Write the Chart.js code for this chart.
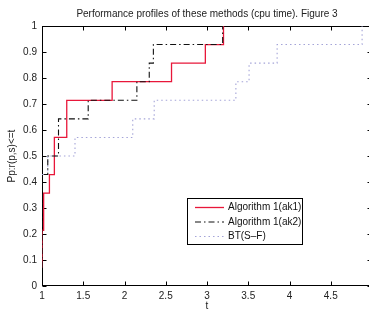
<!DOCTYPE html>
<html>
<head>
<meta charset="utf-8">
<script src="https://cdn.jsdelivr.net/npm/chart.js@4.4.1/dist/chart.umd.min.js"></script>
<style>
  html, body { margin: 0; padding: 0; background: #fff; overflow: hidden; width: 369px; height: 312px; }
  #wrap { width: 376px; height: 312px; }
</style>
</head>
<body>
<div id="wrap"><canvas id="c" width="376" height="312"></canvas></div>
<script>
// ---- data ----
const titleText = 'Performance profiles of these methods (cpu time). Figure 3';
const xLabel = 't';
const yLabel = 'Pp:r(p,s)<=t';
const seriesNames = ['Algorithm 1(ak1)', 'Algorithm 1(ak2)', 'BT(S\u2013F)'];

const ak1T = [1.00, 1.00, 1.02, 1.09, 1.15, 1.15, 1.30, 1.85, 2.57, 2.98, 3.20];
const ak1P = [0.0714, 0.2143, 0.3571, 0.4286, 0.5000, 0.5714, 0.7143, 0.7857, 0.8571, 0.9286, 1.0000];

const ak2T = [1.00, 1.00, 1.07, 1.20, 1.56, 2.15, 2.30, 2.35, 3.19];
const ak2P = [0.0714, 0.4286, 0.5000, 0.6429, 0.7143, 0.7857, 0.8571, 0.9286, 1.0000];

const btT = [1.00, 1.07, 1.40, 2.10, 2.36, 3.35, 3.51, 3.85, 4.88];
const btP = [0.4286, 0.5000, 0.5714, 0.6429, 0.7143, 0.7857, 0.8571, 0.9286, 1.0000];

const xTicks = [1, 1.5, 2, 2.5, 3, 3.5, 4, 4.5];
const yTicks = [0, 0.1, 0.2, 0.3, 0.4, 0.5, 0.6, 0.7, 0.8, 0.9, 1];

const zip = (t, p) => t.map((v, i) => ({ x: v, y: p[i] }));
const FONT = 'Liberation Sans, Arial, Helvetica, sans-serif';

const frame = {
  id: 'frame',
  beforeDatasetsDraw(chart) {
    const { ctx, chartArea: a, scales: { x, y } } = chart;
    ctx.save();
    ctx.strokeStyle = '#000';
    ctx.lineWidth = 1;
    const L = Math.round(a.left) + 0.5, R = Math.round(a.right) - 0.5;
    const T = Math.round(a.top) + 0.5, B = Math.round(a.bottom) - 0.5;
    ctx.strokeRect(L, T, R - L, B - T);
    ctx.beginPath();
    xTicks.forEach(v => {
      const px = Math.round(x.getPixelForValue(v)) + 0.5;
      ctx.moveTo(px, B); ctx.lineTo(px, B - 4);
      ctx.moveTo(px, T); ctx.lineTo(px, T + 4);
    });
    yTicks.forEach(v => {
      const py = Math.round(y.getPixelForValue(v)) + 0.5;
      ctx.moveTo(L, py); ctx.lineTo(L + 4, py);
      ctx.moveTo(R, py); ctx.lineTo(R - 4, py);
    });
    ctx.stroke();
    ctx.restore();
  },
  afterDraw(chart) {
    const { ctx } = chart;
    ctx.save();
    ctx.strokeStyle = '#000';
    ctx.lineWidth = 1;
    const bx = 187.5, by = 198.5, bw = 115, bh = 46;
    ctx.fillStyle = '#fff';
    ctx.fillRect(bx, by, bw, bh);
    ctx.strokeRect(bx, by, bw, bh);
    const rows = [207, 221.5, 236];
    ctx.font = '10px ' + FONT;
    ctx.textBaseline = 'middle';
    ctx.textAlign = 'left';
    chart.data.datasets.forEach((ds, i) => {
      ctx.save();
      ctx.strokeStyle = ds.borderColor;
      ctx.lineWidth = ds.borderWidth;
      ctx.setLineDash(ds.borderDash || []);
      ctx.beginPath();
      ctx.moveTo(195, rows[i] + 0.5);
      ctx.lineTo(224, rows[i] + 0.5);
      ctx.stroke();
      ctx.restore();
      ctx.fillStyle = '#111';
      ctx.fillText(ds.label, 228, rows[i] + 0.5);
    });
    ctx.restore();
  }
};

new Chart(document.getElementById('c'), {
  type: 'line',
  data: {
    datasets: [
      { label: seriesNames[0], data: zip(ak1T, ak1P), borderColor: '#e8173a', borderWidth: 1.3, stepped: 'before', pointRadius: 0, order: 2 },
      { label: seriesNames[1], data: zip(ak2T, ak2P), borderColor: '#111111', borderWidth: 1.1, borderDash: [6, 3, 1.5, 3], stepped: 'before', pointRadius: 0, order: 1 },
      { label: seriesNames[2], data: zip(btT, btP), borderColor: '#a4a4d8', borderWidth: 1.1, borderDash: [1.5, 3], stepped: 'before', pointRadius: 0, order: 3 }
    ]
  },
  options: {
    responsive: false,
    animation: false,
    events: [],
    layout: { padding: { left: 0, right: 3.6, top: 0, bottom: 0 } },
    plugins: {
      legend: { display: false },
      tooltip: { enabled: false },
      title: {
        display: true, text: titleText, fullSize: false,
        color: '#222', font: { family: FONT, size: 10, weight: 'normal' },
        padding: { top: 8.5, bottom: 5.5 }
      }
    },
    scales: {
      x: {
        type: 'linear', min: 1, max: 5,
        afterBuildTicks: s => { s.ticks = xTicks.concat([5]).map(v => ({ value: v })); },
        afterFit: s => { s.height = 26; },
        grid: { display: false, drawTicks: false },
        border: { display: false },
        ticks: {
          padding: 4, maxRotation: 0, autoSkip: false, color: '#222',
          font: { family: FONT, size: 10 },
          callback: v => (v === 5 ? '' : String(v))
        },
        title: { display: true, text: xLabel, color: '#222', font: { family: FONT, size: 10 }, padding: { top: 0, bottom: 0 } }
      },
      y: {
        type: 'linear', min: 0, max: 1,
        afterBuildTicks: s => { s.ticks = yTicks.map(v => ({ value: v })); },
        afterFit: s => { s.width = 42; },
        grid: { display: false, drawTicks: false },
        border: { display: false },
        ticks: {
          padding: 5, autoSkip: false, color: '#222',
          font: { family: FONT, size: 10 },
          callback: v => String(Math.round(v * 10) / 10)
        },
        title: { display: true, text: yLabel, color: '#222', font: { family: FONT, size: 10 }, padding: { top: 6, bottom: 0 } }
      }
    }
  },
  plugins: [frame]
});
</script>
</body>
</html>
